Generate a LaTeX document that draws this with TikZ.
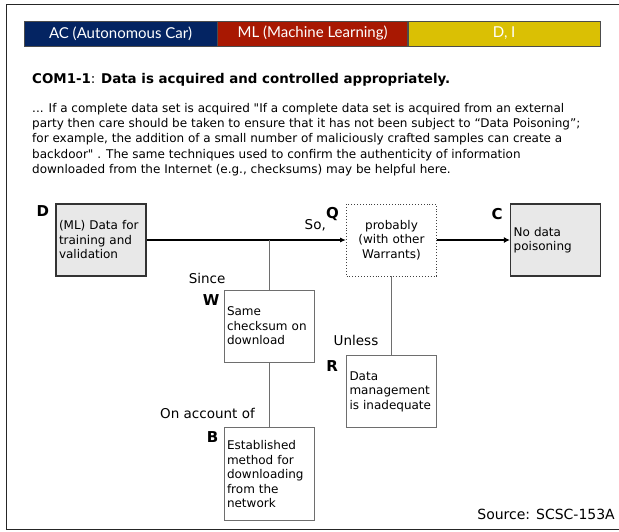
\documentclass[tikz,border=0pt]{standalone}
\usepackage{fontspec}
\setmainfont{DejaVu Sans}
\newfontfamily\barfont{Lato}
\usetikzlibrary{arrows.meta,positioning,calc}
\definecolor{acblue}{RGB}{4,36,98}
\definecolor{mlred}{RGB}{168,24,2}
\definecolor{diyellow}{RGB}{218,192,4}
\definecolor{boxgray}{RGB}{232,232,232}
\definecolor{stemgray}{RGB}{110,110,110}

\begin{document}
\begin{tikzpicture}[
        x=1pt, y=-1pt,
        % Global Styles
        bar/.style={rectangle, draw=black!70, line width=0.6pt, text=white, minimum height=25pt, inner sep=0pt, font=\barfont\fontsize{15}{16}\selectfont},
        block/.style={rectangle, align=left, text width=84pt, minimum width=90pt, minimum height=72pt, inner sep=3pt, font=\fontsize{12}{14.5}\selectfont},
        datum/.style={block, fill=boxgray, draw=black!80, line width=1.5pt},
        reason/.style={block, fill=white, draw=stemgray, line width=0.8pt},
        qual/.style={block, align=center, draw=black!75, dotted, line width=0.9pt},
        letter/.style={anchor=north east, inner sep=0pt, font=\fontsize{15}{15}\selectfont\bfseries},
        conn/.style={inner sep=0pt, font=\fontsize{13.5}{16}\selectfont},
        arrow/.style={line width=1.2pt, -{Latex[length=6pt,width=5pt]}},
        heavy/.style={line width=2.6pt, -{Latex[length=6pt,width=6pt]}},
        stem/.style={stemgray, line width=1pt}
    ]
    \useasboundingbox (0,0) rectangle (619,531);
    \draw[black!85, line width=1pt] (640,4) -- (6,4) -- (6,529) -- (640,529);

    % --- Header bar ---
    \node (ac) [bar, fill=acblue, minimum width=193pt] at (120.5,33.5) {AC (Autonomous Car)};
    \node (ml) [bar, fill=mlred, minimum width=190pt, right=0pt of ac] {ML (Machine Learning)};
    \node (di) [bar, fill=diyellow, minimum width=192pt, right=0pt of ml] {D, I};

    % --- Claim text ---
    \node (title) [anchor=base west, inner sep=0pt, font=\fontsize{13.4}{16}\selectfont] at (32,83) {\textbf{COM1-1}: \textbf{Data is acquired and controlled appropriately.}};
    \node (para) [anchor=north west, inner sep=0pt, align=left, font=\fontsize{12}{15.3}\selectfont] at (32,103) {... If a complete data set is acquired \textquotedbl If a complete data set is acquired from an external\\party then care should be taken to ensure that it has not been subject to “Data Poisoning”;\\for example, the addition of a small number of maliciously crafted samples can create a\\backdoor\textquotedbl{} . The same techniques used to confirm the authenticity of information\\downloaded from the Internet (e.g., checksums) may be helpful here.};

    % --- Argument boxes ---
    \node (D) [datum] at (101,240) {(ML) Data for\\training and\\validation};
    \node (Q) [qual] at (391.5,240) {probably\\(with other\\Warrants)};
    \node (C) [datum, right=73pt of Q] {No data\\poisoning};
    \node (W) [reason] at (269,326) {Same\\checksum on\\download};
    \node (R) [reason, below=79pt of Q] {Data\\management\\is inadequate};
    \node (B) [reason, minimum height=93pt, below=65pt of W] {Established\\method for\\downloading\\from the\\network};

    % --- Letters ---
    \node[letter] at ($(D.north west)+(-6,2)$) {D};
    \node[letter] (Qlab) at ($(Q.north west)+(-7,4)$) {Q};
    \node[letter] at ($(C.north west)+(-7,5)$) {C};
    \node[letter] at ($(W.north west)+(-4,5)$) {W};
    \node[letter] at ($(R.north west)+(-8,5)$) {R};
    \node[letter] at ($(B.north west)+(-5,4)$) {B};

    % --- Connectors ---
    \coordinate (jW) at (W.north |- D.east);
    \draw[arrow] (D) -- (Q);
    \draw[heavy] (Q) -- (C);
    \draw[stem] (jW) -- (W.north);
    \draw[stem] (W.south) -- (B.north);
    \draw[stem] (Q.south) -- (R.north);

    \node[conn, anchor=base east] at ($(Q.north west)+(-20,26)$) {So,};
    \node[conn, anchor=base east] at ($(W.north west)+(2,-6)$) {Since};
    \node[conn, anchor=base east] at ($(R.north)+(-13,-10)$) {Unless};
    \node[conn, anchor=base east] at ($(B.north)+(-14,-9)$) {On account of};

    \node (src) [conn, anchor=base east, font=\fontsize{14}{16}\selectfont] at (615,519) {Source: SCSC-153A};
\end{tikzpicture}
\end{document}
